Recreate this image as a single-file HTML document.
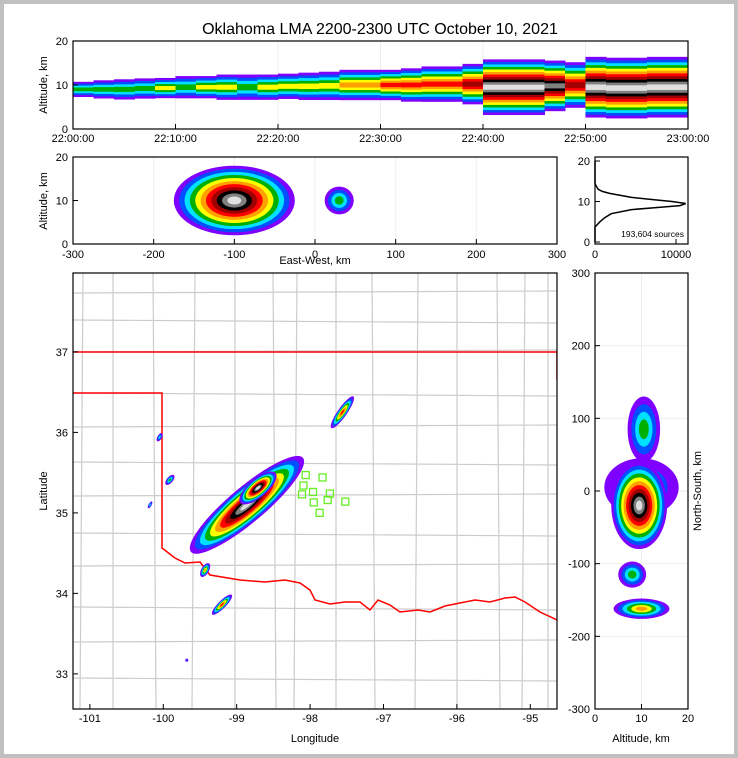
<!DOCTYPE html>
<html><head><meta charset="utf-8"><style>
html,body{margin:0;padding:0;background:#fff}
svg{display:block;font-family:"Liberation Sans",sans-serif}
</style></head><body>
<svg id="fig" xmlns="http://www.w3.org/2000/svg" width="738" height="758" viewBox="0 0 738 758">
<rect x="0" y="0" width="738" height="758" fill="#c0c0c0"/>
<rect x="4" y="4" width="730" height="750" fill="#fff"/>
<text x="380" y="34" font-size="16" text-anchor="middle">Oklahoma LMA 2200-2300 UTC October 10, 2021</text>
<g id="layer"></g>
</svg>
<script>
// ---------- DATA ----------
var timeTickLabels = ["22:00:00","22:10:00","22:20:00","22:30:00","22:40:00","22:50:00","23:00:00"];
var timeBinMinutes = [0,2,4,6,8,10,12,14,16,18,20,22,24,26,28,30,32,34,36,38,40,42,44,46,48,50,52,54,56,58];
var timeAltCenter = [9,9,9,9.2,9.3,9.5,9.5,9.5,9.5,9.5,9.7,9.7,9.8,10,10,10,10,10.2,10.2,10.2,9.5,9.5,9.5,9.8,10,9.5,9.3,9.3,9.5,9.5];
var timeAltSpread = [1.5,1.8,2,2,2,2.2,2.2,2.5,2.5,2.5,2.5,2.7,2.8,3,3,3,3.3,3.5,3.5,4,5.5,5.5,5.5,5,4.5,6,6,6,6,6];
var timeDensityLevel = [3,3,3,3,4,3,4,4,3,4,4,4,4,5,5,6,6,6,6,7,10,10,10,9,7,10,10,10,10,10];

var ewCenter = [-100, 30];
var ewHalfWidth = [75, 18];
var ewAltCenter = [10, 10];
var ewAltHalf = [8, 3.2];
var ewLevel = [10, 3];

var histAlt = [0,3.7,5,6,7,8,8.5,9,9.5,10,10.5,11,12,12.5,13,14,14.5,20];
var histCount = [0,0,600,1200,2000,4500,7500,10500,11200,9500,7000,4500,1800,900,400,100,0,0];
var sourceCountLabel = "193,604 sources";

var mapLon = [-98.86,-98.71,-97.56,-99.20,-99.43,-99.91,-100.05,-100.18,-99.68];
var mapLat = [35.10,35.31,36.25,33.86,34.29,35.41,35.94,35.10,33.17];
var mapHalfLenKm = [95,30,25,18,10,8,6,5,2];
var mapHalfWidKm = [23,12,6,5,5,4,3,2,2];
var mapAngleDeg = [40,40,55,45,60,50,60,60,0];
var mapLevel = [10,10,6,6,5,3,2,2,1];

var stationLon = [-98.06,-97.83,-98.09,-97.96,-98.11,-97.73,-97.95,-97.76,-97.52,-97.87];
var stationLat = [35.47,35.44,35.34,35.26,35.23,35.24,35.13,35.16,35.14,35.00];

var nsCenter = [5, -20, 85, -115, -162];
var nsHalf = [40, 60, 45, 18, 14];
var nsAltCenter = [10, 9.5, 10.5, 8, 10];
var nsAltHalf = [8, 6, 3.5, 3, 6];
var nsLevel = [2, 10, 3, 3, 5];

var lonTicks = [-101,-100,-99,-98,-97,-96,-95];
var latTicks = [33,34,35,36,37];
var ewTicks = [-300,-200,-100,0,100,200,300];
var nsTicks = [-300,-200,-100,0,100,200,300];
var altTicks = [0,10,20];

// ---------- HELPERS ----------
var NS = "http://www.w3.org/2000/svg";
var layer = document.getElementById('layer');
function mk(tag, attrs, parent){
  var e = document.createElementNS(NS, tag);
  for (var k in attrs) e.setAttribute(k, attrs[k]);
  (parent||layer).appendChild(e); return e;
}
var palette = ["#8000ff","#0050ff","#00e0ff","#00b000","#ffff00","#ffa000","#ff0000","#a00000","#000000","#808080","#e0e0e0"];

function tX(m){return 73 + m/60*615;}
function tY(a){return 129 - a/20*88;}
function eX(v){return 73 + (v+300)/600*484;}
function eY(a){return 244 - a/20*87;}
function hX(c){return 595 + c/10000*81;}
function hY(a){return 242 - a/20*81;}
function mX(lon){return 73 + (lon+101.23)*73.4;}
function mY(lat){return 273 + (37.98-lat)*80.5;}
function nX(a){return 595 + a/20*93;}
function nY(v){return 273 + (300-v)/600*436;}

function panel(x,y,w,h,name){
  var r = mk('rect',{x:x,y:y,width:w,height:h,fill:'#fff',stroke:'none'});
  
  
  return r;
}
function frame(x,y,w,h,name){
  var r = mk('rect',{x:x,y:y,width:w,height:h,fill:'none',stroke:'#000','stroke-width':1.2});
  
  
}
function label(x,y,txt,anchor,size,name,rot){
  var t = mk('text',{x:x,y:y,'font-size':size||11,'text-anchor':anchor||'middle'});
  if(rot) t.setAttribute('transform','rotate('+rot+' '+x+' '+y+')');
  t.textContent = txt;
  
  
  return t;
}
function clip(id,x,y,w,h){
  var c = mk('clipPath',{id:id}); mk('rect',{x:x,y:y,width:w,height:h},c);
}

// ---------- TOP PANEL ----------
panel(73,41,615,88,'time-altitude-panel');
clip('cTop',73,41,615,88);
var gTop = mk('g',{'clip-path':'url(#cTop)'});
for (var i=1;i<6;i++){ mk('line',{x1:tX(i*10),x2:tX(i*10),y1:41,y2:129,stroke:'#eee'},gTop); }
for (var i=0;i<timeBinMinutes.length;i++){
  var lv = timeDensityLevel[i];
  for (var k=0;k<=lv;k++){
    var f = 1 - k/(lv+1);
    var hs = timeAltSpread[i]*f*1.15;
    var r = mk('rect',{x:tX(timeBinMinutes[i]),y:tY(timeAltCenter[i]+hs),width:tX(2)-tX(0)+0.5,height:tY(0)-tY(2*hs),fill:palette[k]},gTop);
    
    
  }
}
frame(73,41,615,88,'time-altitude-frame');
for (var i=0;i<timeTickLabels.length;i++){
  var x=tX(i*10); mk('line',{x1:x,x2:x,y1:129,y2:124,stroke:'#000'});
  label(x,142,timeTickLabels[i],'middle',11,'time-tick-label');
}
for (var i=0;i<altTicks.length;i++){ label(68,tY(altTicks[i])+4,String(altTicks[i]),'end',11,'top-alt-tick'); mk('line',{x1:73,x2:78,y1:tY(altTicks[i]),y2:tY(altTicks[i]),stroke:'#000'}); }
label(47,85,'Altitude, km','middle',11,'top-y-axis-title',-90);

// ---------- EW PANEL ----------
panel(73,157,484,87,'east-west-panel');
clip('cEW',73,157,484,87);
var gEW = mk('g',{'clip-path':'url(#cEW)'});
for (var i=0;i<ewTicks.length;i++){ mk('line',{x1:eX(ewTicks[i]),x2:eX(ewTicks[i]),y1:157,y2:244,stroke:'#eee'},gEW); }
for (var c=0;c<ewCenter.length;c++){
  var lv=ewLevel[c];
  for (var k=0;k<=lv;k++){
    var f=1-k/(lv+1.3);
    var e=mk('ellipse',{cx:eX(ewCenter[c]),cy:eY(ewAltCenter[c]),rx:eX(ewHalfWidth[c]*f)-eX(0),ry:eY(0)-eY(ewAltHalf[c]*f),fill:palette[k]},gEW);
    
    
  }
}
frame(73,157,484,87,'east-west-frame');
for (var i=0;i<ewTicks.length;i++){ var x=eX(ewTicks[i]); mk('line',{x1:x,x2:x,y1:244,y2:239,stroke:'#000'}); label(x,258,String(ewTicks[i]),'middle',11,'ew-tick-label'); }
for (var i=0;i<altTicks.length;i++){ label(68,eY(altTicks[i])+4,String(altTicks[i]),'end',11,'ew-alt-tick'); mk('line',{x1:73,x2:78,y1:eY(altTicks[i]),y2:eY(altTicks[i]),stroke:'#000'}); }
label(47,201,'Altitude, km','middle',11,'ew-y-axis-title',-90);
label(315,264,'East-West, km','middle',11,'ew-x-axis-title');

// ---------- HISTOGRAM PANEL ----------
panel(595,157,93,87,'altitude-histogram-panel');
var d='';
for (var i=0;i<histAlt.length;i++){ d+=(i?'L':'M')+hX(histCount[i]).toFixed(1)+','+hY(histAlt[i]).toFixed(1); }
var hp=mk('path',{d:d,fill:'none',stroke:'#000','stroke-width':1.5});


frame(595,157,93,87,'histogram-frame');
label(684,237,sourceCountLabel,'end',8.5,'source-count-label');
for (var i=0;i<altTicks.length;i++){ label(590,hY(altTicks[i])+4,String(altTicks[i]),'end',11,'hist-alt-tick'); mk('line',{x1:595,x2:600,y1:hY(altTicks[i]),y2:hY(altTicks[i]),stroke:'#000'}); }
label(hX(0),258,'0','middle',11,'hist-count-tick'); label(hX(10000),258,'10000','middle',11,'hist-count-tick');
mk('line',{x1:hX(10000),x2:hX(10000),y1:244,y2:239,stroke:'#000'});

// ---------- MAP PANEL ----------
panel(73,273,484,436,'map-panel');
clip('cMap',73,273,484,436);
var gMap = mk('g',{'clip-path':'url(#cMap)'});
var cv=[83,113,153,195,235,273,297,336,372,418,457,497,525,548];
for (var i=0;i<cv.length;i++){ var l=mk('line',{x1:cv[i],x2:cv[i]+(i%3-1)*3,y1:273,y2:709,stroke:'#cccccc','stroke-width':1.2},gMap);   }
var ch=[293,320,352,393,427,462,496,533,566,607,642,678];
for (var i=0;i<ch.length;i++){ var l=mk('line',{x1:73,x2:557,y1:ch[i],y2:ch[i]+(i%2?3:-2),stroke:'#cccccc','stroke-width':1.2},gMap);   }
var sb=mk('path',{d:'M73,352 L557,352 M557,352 L557,380 M73,393 L162,393 L162,548 L175,558 L185,563 L200,562 L210,575 L240,580 L265,582 L285,580 L300,583 L310,590 L315,600 L330,604 L345,602 L360,602 L370,610 L378,600 L390,605 L400,612 L418,610 L430,612 L445,606 L460,603 L475,600 L490,602 L505,598 L515,597 L525,602 L540,612 L557,620',fill:'none',stroke:'#ff0000','stroke-width':1.5},gMap);


var kmPx=0.77;
for (var c=0;c<mapLon.length;c++){
  var lv=mapLevel[c], cx=mX(mapLon[c]), cy=mY(mapLat[c]);
  for (var k=0;k<=lv;k++){
    var f=1-k/(lv+1.3);
    var e=mk('ellipse',{cx:cx,cy:cy,rx:mapHalfLenKm[c]*kmPx*f,ry:mapHalfWidKm[c]*kmPx*f,fill:palette[k],transform:'rotate('+(-mapAngleDeg[c])+' '+cx+' '+cy+')'},gMap);
    
    
  }
}
for (var i=0;i<stationLon.length;i++){
  var s=mk('rect',{x:mX(stationLon[i])-3.5,y:mY(stationLat[i])-3.5,width:7,height:7,fill:'none',stroke:'#66ee22','stroke-width':1.3},gMap);
  
  
}
frame(73,273,484,436,'map-frame');
for (var i=0;i<lonTicks.length;i++){ var x=mX(lonTicks[i]); mk('line',{x1:x,x2:x,y1:709,y2:704,stroke:'#000'}); label(x,722,String(lonTicks[i]),'middle',11,'lon-tick-label'); }
for (var i=0;i<latTicks.length;i++){ var y=mY(latTicks[i]); mk('line',{x1:73,x2:78,y1:y,y2:y,stroke:'#000'}); label(68,y+4,String(latTicks[i]),'end',11,'lat-tick-label'); }
label(315,742,'Longitude','middle',11,'lon-axis-title');
label(47,491,'Latitude','middle',11,'lat-axis-title',-90);

// ---------- NS PANEL ----------
panel(595,273,93,436,'north-south-panel');
clip('cNS',595,273,93,436);
var gNS = mk('g',{'clip-path':'url(#cNS)'});
for (var i=0;i<nsTicks.length;i++){ mk('line',{x1:595,x2:688,y1:nY(nsTicks[i]),y2:nY(nsTicks[i]),stroke:'#eee'},gNS); }
mk('line',{x1:nX(10),x2:nX(10),y1:273,y2:709,stroke:'#eee'},gNS);
for (var c=0;c<nsCenter.length;c++){
  var lv=nsLevel[c];
  for (var k=0;k<=lv;k++){
    var f=1-k/(lv+1.3);
    var e=mk('ellipse',{cx:nX(nsAltCenter[c]),cy:nY(nsCenter[c]),rx:nX(nsAltHalf[c]*f)-nX(0),ry:nY(0)-nY(nsHalf[c]*f),fill:palette[k]},gNS);
    
    
  }
}
frame(595,273,93,436,'north-south-frame');
for (var i=0;i<nsTicks.length;i++){ var y=nY(nsTicks[i]); mk('line',{x1:595,x2:600,y1:y,y2:y,stroke:'#000'}); label(590,y+4,String(nsTicks[i]),'end',11,'ns-tick-label'); }
for (var i=0;i<altTicks.length;i++){ var x=nX(altTicks[i]); mk('line',{x1:x,x2:x,y1:709,y2:704,stroke:'#000'}); label(x,722,String(altTicks[i]),'middle',11,'ns-alt-tick'); }
label(641,742,'Altitude, km','middle',11,'ns-x-axis-title');
label(701,491,'North-South, km','middle',11,'ns-y-axis-title',-90);
</script>
</body></html>
